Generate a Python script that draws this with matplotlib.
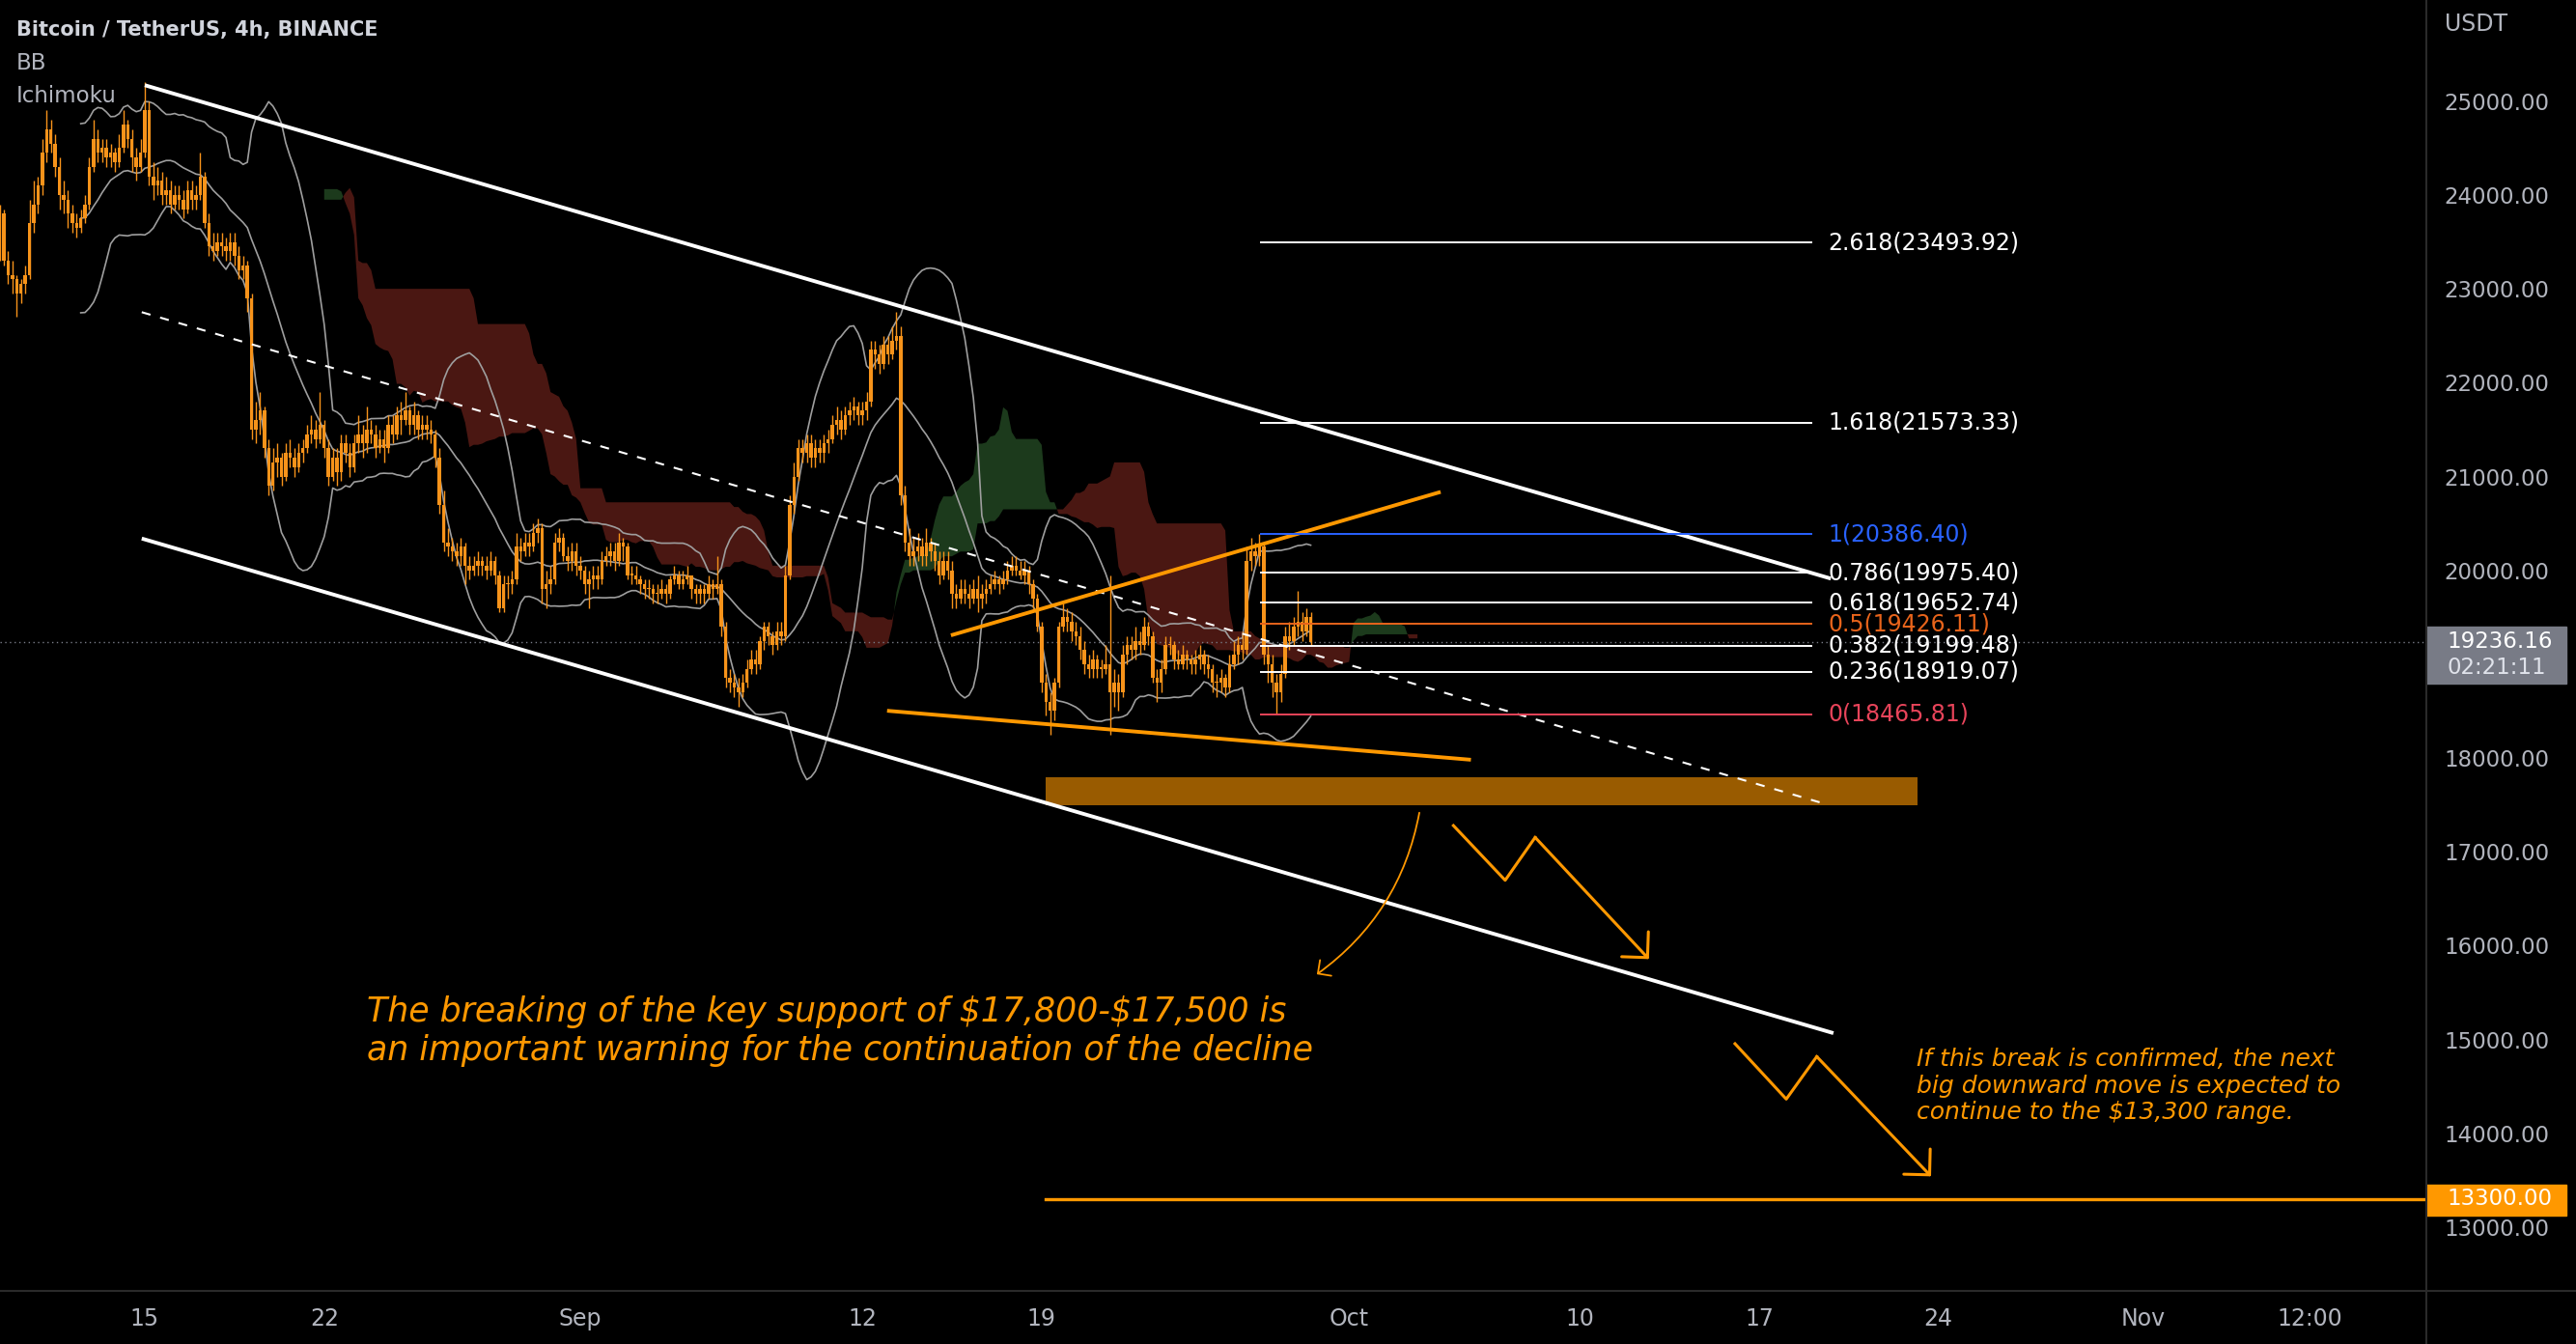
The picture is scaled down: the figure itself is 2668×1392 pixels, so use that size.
import numpy as np
import pandas as pd
import matplotlib
matplotlib.use("Agg")
import matplotlib.pyplot as plt
from matplotlib.lines import Line2D
from matplotlib.patches import Rectangle
from matplotlib.transforms import blended_transform_factory

# BTC/USDT 4h candles, Aug 9 08:00 -> Sep 29 12:00
# x axis = days since Aug 15 00:00
first_open = 23400
closes = [
    23800, 23300, 23150, 23100,                      # Aug 9 (08-20)
    22950, 23050, 23150, 23700, 23900, 24100,        # Aug 10
    24450, 24700, 24550, 24300, 24000, 23950,        # Aug 11
    23800, 23700, 23650, 23750, 23900, 24300,        # Aug 12
    24600, 24450, 24500, 24400, 24450, 24350,        # Aug 13
    24500, 24750, 24600, 24400, 24300, 24450,        # Aug 14
    24900, 24200, 24100, 24150, 24000, 24050,        # Aug 15
    23900, 24000, 23950, 23850, 24050, 23950,        # Aug 16
    24000, 24200, 23700, 23450, 23400, 23500,        # Aug 17
    23450, 23400, 23500, 23350, 23200, 23250,        # Aug 18
    22900, 21500, 21600, 21700, 21300, 20900,        # Aug 19
    21150, 21200, 21000, 21250, 21200, 21100,        # Aug 20
    21250, 21300, 21450, 21500, 21400, 21550,        # Aug 21
    21300, 21000, 21200, 21050, 21350, 21250,        # Aug 22
    21100, 21350, 21450, 21350, 21500, 21450,        # Aug 23
    21300, 21400, 21300, 21550, 21450, 21650,        # Aug 24
    21600, 21700, 21550, 21650, 21500, 21550,        # Aug 25
    21500, 21450, 21200, 20700, 20300, 20250,        # Aug 26
    20200, 20150, 20250, 20050, 20000, 20050,        # Aug 27
    20100, 20050, 20000, 20100, 19950, 19600,        # Aug 28
    19850, 19850, 19900, 20250, 20200, 20300,        # Aug 29
    20250, 20400, 20450, 19800, 19850, 19900,        # Aug 30
    20300, 20350, 20150, 20100, 20200, 20050,        # Aug 31
    20000, 19850, 19900, 19950, 19900, 20100,        # Sep 1
    20150, 20200, 20100, 20300, 20250, 19950,        # Sep 2
    19950, 19900, 19850, 19800, 19800, 19750,        # Sep 3
    19750, 19800, 19750, 19900, 19950, 19850,        # Sep 4
    19900, 19950, 19800, 19750, 19800, 19750,        # Sep 5
    19850, 19800, 19850, 19400, 18850, 18800,        # Sep 6
    18750, 18700, 18800, 18950, 19050, 19000,        # Sep 7
    19250, 19400, 19300, 19200, 19350, 19300,        # Sep 8
    19950, 20700, 21000, 21300, 21250, 21350,        # Sep 9
    21200, 21300, 21250, 21350, 21400, 21550,        # Sep 10
    21600, 21500, 21650, 21700, 21750, 21650,        # Sep 11
    21700, 21800, 22350, 22300, 22200, 22400,        # Sep 12
    22300, 22450, 22500, 20800, 20300, 20150,        # Sep 13
    20200, 20250, 20150, 20300, 20200, 20100,        # Sep 14
    19950, 20100, 20000, 19750, 19700, 19800,        # Sep 15
    19750, 19700, 19800, 19700, 19750, 19800,        # Sep 16
    19850, 19900, 19850, 19900, 20000, 20050,        # Sep 17
    20000, 19950, 20000, 19850, 19700, 19400,        # Sep 18
    18800, 18600, 18500, 18800, 19400, 19500,        # Sep 19
    19450, 19350, 19300, 19150, 19000, 18950,        # Sep 20
    19050, 18950, 18950, 19000, 18700, 18800,        # Sep 21
    18700, 19100, 19200, 19150, 19250, 19200,        # Sep 22
    19400, 19300, 18850, 18800, 18950, 19200,        # Sep 23
    19200, 19050, 19000, 19100, 19050, 19000,        # Sep 24
    19050, 19100, 19000, 18950, 18800, 18800,        # Sep 25
    18850, 18750, 19000, 19100, 19200, 19150,        # Sep 26
    20100, 20200, 20150, 20250, 19100, 19000,        # Sep 27
    18800, 18700, 18900, 19300, 19250, 19400,        # Sep 28
    19450, 19350, 19500, 19236.16,                   # Sep 29 (00-12)
]
highs = [
    23900, 23850, 23400, 23300,
    23150, 23100, 23250, 23950, 24150, 24200,
    24600, 24900, 24800, 24650, 24400, 24150,
    24050, 23900, 23800, 23850, 24000, 24400,
    24800, 24700, 24600, 24600, 24550, 24500,
    24650, 24900, 24800, 24700, 24500, 24600,
    25200, 25000, 24350, 24300, 24250, 24200,
    24150, 24100, 24100, 24050, 24150, 24150,
    24100, 24450, 24250, 23800, 23600, 23600,
    23600, 23550, 23600, 23600, 23450, 23350,
    23300, 22950, 21800, 21900, 21750, 21400,
    21300, 21350, 21250, 21350, 21400, 21300,
    21350, 21400, 21550, 21650, 21600, 21900,
    21600, 21400, 21300, 21300, 21450, 21450,
    21350, 21450, 21650, 21550, 21750, 21600,
    21550, 21500, 21500, 21650, 21650, 21750,
    21800, 21900, 21750, 21800, 21700, 21650,
    21650, 21600, 21500, 21300, 20850, 20450,
    20350, 20300, 20350, 20300, 20150, 20150,
    20200, 20150, 20150, 20200, 20150, 20000,
    19950, 19950, 20000, 20400, 20350, 20400,
    20400, 20500, 20550, 20500, 20000, 20050,
    20400, 20450, 20400, 20250, 20300, 20300,
    20150, 20050, 20000, 20050, 20050, 20200,
    20250, 20300, 20300, 20400, 20350, 20300,
    20050, 20050, 19950, 19900, 19900, 19850,
    19850, 19900, 19850, 19950, 20050, 20000,
    20000, 20050, 19950, 19850, 19850, 19850,
    19950, 19900, 20150, 19900, 19450, 18950,
    18900, 18850, 18900, 19050, 19150, 19150,
    19300, 19450, 19450, 19350, 19450, 19450,
    20050, 20800, 21150, 21400, 21400, 21450,
    21450, 21400, 21400, 21450, 21500, 21650,
    21750, 21700, 21750, 21800, 21850, 21800,
    21800, 21900, 22450, 22450, 22400, 22500,
    22500, 22600, 22750, 22600, 20900, 20450,
    20350, 20400, 20350, 20450, 20350, 20300,
    20200, 20200, 20200, 20100, 19850, 19900,
    19900, 19850, 19900, 19950, 19850, 19900,
    19950, 20000, 19950, 20000, 20100, 20150,
    20150, 20100, 20100, 20050, 19900, 19750,
    19450, 18900, 18700, 18850, 19450, 19650,
    19600, 19550, 19450, 19400, 19250, 19100,
    19150, 19100, 19050, 19200, 19950, 18950,
    18900, 19200, 19300, 19300, 19400, 19350,
    19500, 19450, 19350, 18950, 19050, 19300,
    19300, 19250, 19150, 19200, 19150, 19100,
    19150, 19200, 19150, 19100, 19000, 18900,
    18950, 18900, 19100, 19250, 19300, 19350,
    20250, 20350, 20300, 20386, 20300, 19200,
    19100, 18900, 19000, 19400, 19450, 19500,
    19780, 19550, 19600, 19550,
]
lows = [
    23300, 23250, 23050, 22950,
    22700, 22850, 22950, 23100, 23600, 23800,
    24000, 24350, 24450, 24200, 23850, 23800,
    23650, 23600, 23550, 23600, 23700, 23850,
    24250, 24350, 24350, 24300, 24300, 24250,
    24300, 24450, 24500, 24250, 24150, 24250,
    24400, 24100, 23950, 24000, 23900, 23900,
    23800, 23850, 23850, 23750, 23800, 23850,
    23850, 23950, 23650, 23350, 23300, 23350,
    23350, 23300, 23300, 23250, 23100, 23100,
    22750, 21400, 21350, 21450, 21200, 20800,
    20850, 21000, 20900, 20950, 21100, 21000,
    21050, 21150, 21250, 21350, 21300, 21350,
    21200, 20900, 20950, 20900, 20950, 21150,
    21000, 21050, 21250, 21200, 21250, 21350,
    21200, 21250, 21150, 21250, 21350, 21400,
    21450, 21550, 21450, 21450, 21400, 21400,
    21400, 21350, 21100, 20600, 20200, 20150,
    20100, 20050, 20050, 19850, 19900, 19950,
    19950, 19950, 19900, 19950, 19850, 19550,
    19550, 19700, 19750, 19850, 20100, 20150,
    20150, 20200, 20300, 19650, 19600, 19750,
    19850, 20200, 20100, 20000, 20000, 19950,
    19900, 19750, 19600, 19800, 19800, 19850,
    20050, 20050, 20000, 20050, 20100, 19900,
    19850, 19850, 19750, 19700, 19700, 19650,
    19650, 19700, 19650, 19700, 19850, 19800,
    19800, 19850, 19700, 19650, 19650, 19650,
    19700, 19700, 19750, 19300, 18750, 18700,
    18650, 18550, 18650, 18750, 18900, 18900,
    18950, 19150, 19200, 19100, 19150, 19200,
    19250, 19900, 20600, 20950, 21150, 21150,
    21100, 21100, 21150, 21150, 21250, 21350,
    21450, 21400, 21450, 21550, 21600, 21550,
    21550, 21600, 21750, 22150, 22100, 22150,
    22200, 22250, 22350, 20700, 20200, 20050,
    20050, 20100, 20050, 20050, 20100, 20000,
    19850, 19900, 19900, 19600, 19600, 19650,
    19650, 19600, 19650, 19550, 19600, 19650,
    19750, 19800, 19750, 19800, 19850, 19950,
    19950, 19900, 19850, 19750, 19600, 19350,
    18700, 18450, 18250, 18400, 18750, 19350,
    19350, 19250, 19200, 19050, 18900, 18850,
    18850, 18850, 18850, 18900, 18250, 18550,
    18500, 18650, 19000, 19050, 19050, 19100,
    19150, 19200, 18800, 18600, 18700, 18900,
    19100, 18950, 18950, 18950, 18950, 18900,
    18900, 18950, 18900, 18850, 18700, 18650,
    18700, 18650, 18700, 18950, 19000, 19050,
    19100, 20000, 20050, 20050, 19000, 18800,
    18650, 18466, 18600, 18850, 19150, 19200,
    19300, 19250, 19300, 19200,
]

# chart drawings: (day, price)
channel_upper = [(0.0, 25170), (65.8, 19912)]
channel_lower = [(-0.12, 20339), (65.9, 15068)]
channel_mid = [(-0.12, 22751), (65.5, 17517)]
wedge_top = [(31.53, 19313), (50.5, 20830)]
wedge_bottom = [(29.04, 18502), (51.68, 17983)]
support_zone = (35.15, 69.2, 17500, 17800)
target_price = 13300
target_start = 35.15
fib_labels = ["2.618", "1.618", "1", "0.786", "0.618", "0.5", "0.382", "0.236", "0"]
fib_prices = [23493.92, 21573.33, 20386.40, 19975.40, 19652.74, 19426.11, 19199.48, 18919.07, 18465.81]
fib_colors = ["white", "white", "#2962FF", "white", "white", "#E8641B", "white", "white", "#E8445A"]
fib_span = (43.57, 65.02)
last_price = 19236.16
countdown = "02:21:11"
curved_arrow = [(49.74, 17417), (45.74, 15695)]
zigzag_1 = [(51.07, 17280), (53.09, 16697), (54.26, 17154), (58.70, 15857)]
zigzag_2 = [(62.06, 14955), (64.06, 14365), (65.25, 14818), (69.71, 13542)]
date_ticks = [0, 7, 17, 28, 35, 47, 56, 63, 70, 78, 84.5]
date_labels = ["15", "22", "Sep", "12", "19", "Oct", "10", "17", "24", "Nov", "12:00"]
price_ticks = [13000, 14000, 15000, 16000, 17000, 18000, 20000, 21000, 22000, 23000, 24000, 25000]

ORANGE = "#FF9800"
CANDLE = "#F7931A"
AXIS_TXT = "#B2B5BE"

c = np.array(closes, float)
n = len(c)
t = -34 / 6 + np.arange(n) / 6
o = np.r_[first_open, c[:-1]]
h = np.maximum(np.array(highs, float), np.maximum(o, c))
l = np.minimum(np.array(lows, float), np.minimum(o, c))

# Bollinger Bands (20, 2)
s = pd.Series(c)
basis = s.rolling(20).mean()
dev = s.rolling(20).std(ddof=0)

# Ichimoku cloud (9, 26, 52, displacement 26)
hs, ls = pd.Series(h), pd.Series(l)
def donchian(k):
    return (hs.rolling(k).max() + ls.rolling(k).min()) / 2
lead1 = ((donchian(9) + donchian(26)) / 2).values
lead2 = donchian(52).values
tc = t + 25 / 6

W, H = 2668, 1392
fig = plt.figure(figsize=(W / 100, H / 100), dpi=100, facecolor="black")
ax = fig.add_axes([0, (H - 1337) / H, 2513 / W, 1337 / H])
ax.set_facecolor("black")

ax.fill_between(tc, lead1, lead2, where=lead1 >= lead2, interpolate=True,
                color="#1C3A1C", lw=0, zorder=1)
ax.fill_between(tc, lead1, lead2, where=lead1 < lead2, interpolate=True,
                color="#4A1712", lw=0, zorder=1)

for band in (basis + 2 * dev, basis, basis - 2 * dev):
    ax.plot(t, band, color="#9E9E9E", lw=1.2, zorder=2)

ax.vlines(t, l, h, color=CANDLE, lw=1.0, zorder=3)
ax.bar(t, np.maximum(np.abs(c - o), 15), bottom=np.minimum(o, c), width=0.13,
       color=CANDLE, lw=0, zorder=3)

ax.axhline(last_price, color="#787B86", lw=1, ls=(0, (1, 2.5)), zorder=2)

# channel
for seg in (channel_upper, channel_lower):
    xs, ys = zip(*seg)
    ax.plot(xs, ys, color="white", lw=2.8, solid_capstyle="butt", zorder=5)
xs, ys = zip(*channel_mid)
ax.plot(xs, ys, color="white", lw=1.5, ls=(0, (4.5, 5)), zorder=5)

for seg in (wedge_top, wedge_bottom):
    xs, ys = zip(*seg)
    ax.plot(xs, ys, color=ORANGE, lw=2.8, zorder=5)

z0, z1, zb, zt = support_zone
ax.add_patch(Rectangle((z0, zb), z1 - z0, zt - zb, color="#995B00", lw=0, zorder=4))

ax.plot([target_start, 89.04], [target_price] * 2, color=ORANGE, lw=2.4, zorder=5)

# fib levels
for lab, p, col in zip(fib_labels, fib_prices, fib_colors):
    ax.plot(fib_span, [p, p], color=col, lw=1.4, zorder=5)
    ax.text(65.7, p, f"{lab}({p:.2f})", color=col, fontsize=17, va="center",
            ha="left", zorder=6)

# arrows
ax.annotate("", xy=curved_arrow[1], xytext=curved_arrow[0],
            arrowprops=dict(arrowstyle="->,head_length=0.4,head_width=0.4",
                            connectionstyle="arc3,rad=-0.2", color=ORANGE, lw=1.3,
                            shrinkA=0, shrinkB=0, mutation_scale=18), zorder=6)
for zz in (zigzag_1, zigzag_2):
    xs, ys = zip(*zz)
    ax.plot(xs[:3], ys[:3], color=ORANGE, lw=2.2, zorder=6)
    ax.annotate("", xy=zz[3], xytext=zz[2],
                arrowprops=dict(arrowstyle="->,head_length=0.4,head_width=0.4",
                                color=ORANGE, lw=2.2, shrinkA=0, shrinkB=0,
                                mutation_scale=34), zorder=6)

ax.text(8.67, 15192, "The breaking of the key support of \\$17,800-\\$17,500 is",
        color=ORANGE, fontsize=25, style="italic", va="baseline", zorder=6)
ax.text(8.67, 14780, "an important warning for the continuation of the decline",
        color=ORANGE, fontsize=25, style="italic", va="baseline", zorder=6)
for y, line in zip([14718, 14433, 14149],
                   ["If this break is confirmed, the next",
                    "big downward move is expected to",
                    "continue to the \\$13,300 range."]):
    ax.text(69.13, y, line, color=ORANGE, fontsize=18, style="italic",
            va="baseline", zorder=6)

ax.set_xlim(-5.652, 89.04)
ax.set_ylim(12321, 26078)
for sp in ax.spines.values():
    sp.set_visible(False)
ax.set_xticks(date_ticks)
ax.set_xticklabels(date_labels)
ax.yaxis.tick_right()
ax.set_yticks(price_ticks)
ax.set_yticklabels([f"{v:.2f}" for v in price_ticks])
ax.tick_params(axis="x", length=0, pad=12, labelsize=17, labelcolor=AXIS_TXT)
ax.tick_params(axis="y", length=0, pad=13.5, labelsize=16.5, labelcolor=AXIS_TXT)

# price boxes on the scale
tr = blended_transform_factory(fig.transFigure, ax.transData)
ax.add_patch(Rectangle((2513 / W, 18793), 145 / W, 607, transform=tr,
                       color="#787B86", clip_on=False, zorder=10))
ax.text(2534 / W, last_price, f"{last_price:.2f}", transform=tr, color="white",
        fontsize=16.5, va="center", clip_on=False, zorder=11)
ax.text(2534 / W, 18958, countdown, transform=tr, color="#E0E3EB",
        fontsize=16.5, va="center", clip_on=False, zorder=11)
ax.add_patch(Rectangle((2513 / W, 13122), 145 / W, 329, transform=tr,
                       color=ORANGE, clip_on=False, zorder=10))
ax.text(2534 / W, target_price, f"{target_price:.2f}", transform=tr, color="white",
        fontsize=16.5, va="center", clip_on=False, zorder=11)

fig.add_artist(Line2D([2513 / W] * 2, [0, 1], color="#2A2A2A", lw=1.5))
fig.add_artist(Line2D([0, 1], [(H - 1337) / H] * 2, color="#2A2A2A", lw=1.5))

fig.text(17 / W, 1 - 31 / H, "Bitcoin / TetherUS, 4h, BINANCE", color="#D1D4DC",
         fontsize=15, weight="bold", va="center")
fig.text(17 / W, 1 - 65 / H, "BB", color=AXIS_TXT, fontsize=16.5, va="center")
fig.text(17 / W, 1 - 100 / H, "Ichimoku", color=AXIS_TXT, fontsize=16.5, va="center")
fig.text(2532 / W, 1 - 25 / H, "USDT", color=AXIS_TXT, fontsize=17, va="center")

fig.savefig("out.png", dpi=100, facecolor="black")
